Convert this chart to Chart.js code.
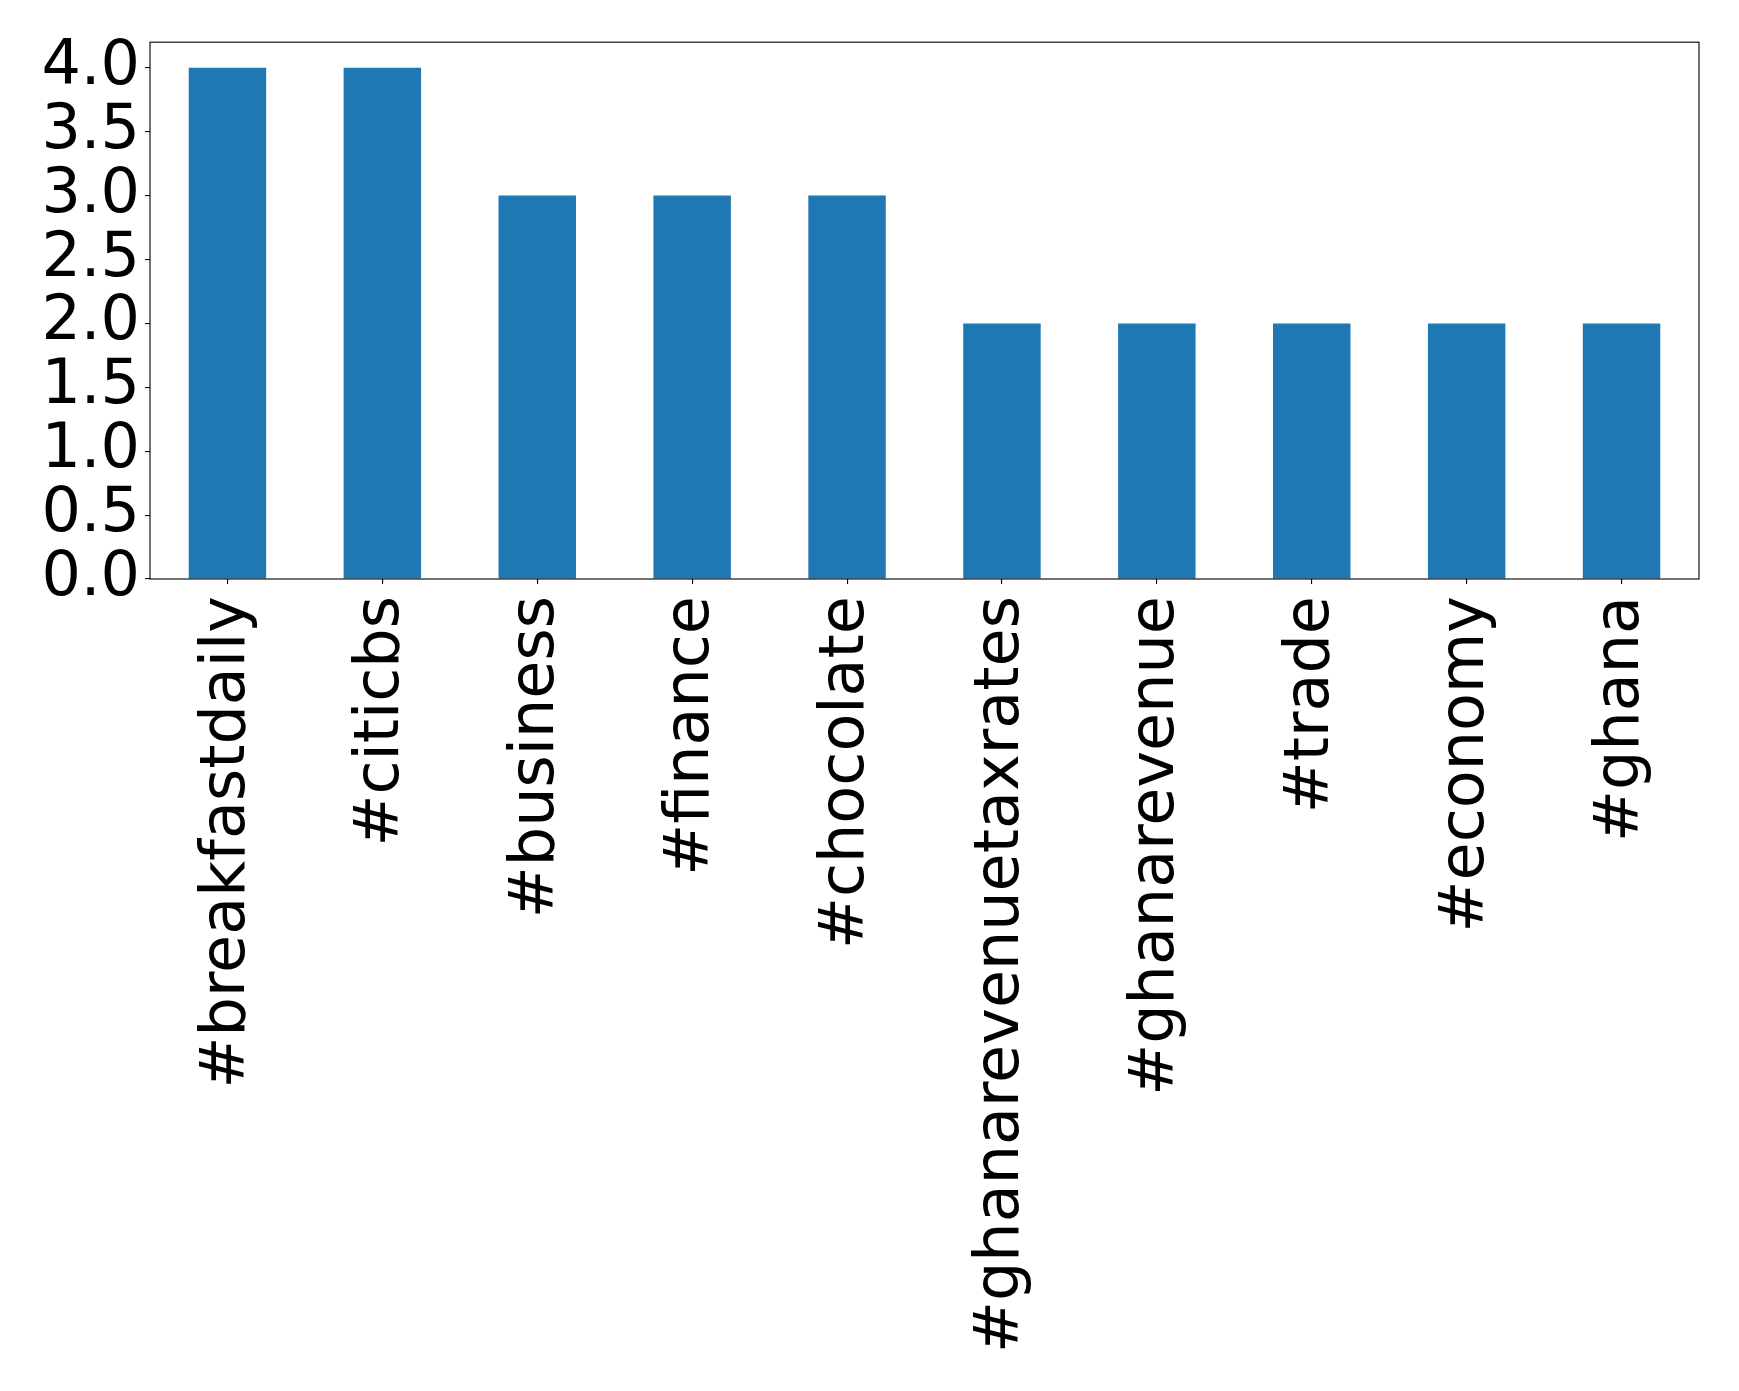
<!DOCTYPE html>
<html>
<head>
<meta charset="utf-8">
<script src="https://cdn.jsdelivr.net/npm/chart.js@4"></script>
<style>
html,body{margin:0;padding:0;background:#fff;}
#wrap{width:1739px;height:1391px;}
</style>
</head>
<body>
<div id="wrap"><canvas id="c" width="1739" height="1391"></canvas></div>
<script>
const categories = ["#breakfastdaily","#citicbs","#business","#finance","#chocolate","#ghanarevenuetaxrates","#ghanarevenue","#trade","#economy","#ghana"];
const counts = [4,4,3,3,3,2,2,2,2,2];
const yTicks = [0,0.5,1.0,1.5,2.0,2.5,3.0,3.5,4.0];

const frame = {
  id: 'frame',
  afterDraw(chart){
    const a = chart.chartArea, ctx = chart.ctx;
    ctx.save();
    ctx.strokeStyle = '#000';
    ctx.lineWidth = 1.1;
    ctx.strokeRect(a.left, a.top, a.right - a.left, a.bottom - a.top);
    ctx.restore();
  }
};

new Chart(document.getElementById('c'), {
  type: 'bar',
  data: {
    labels: categories,
    datasets: [{
      data: counts,
      backgroundColor: '#1f77b4',
      borderWidth: 0,
      categoryPercentage: 1.0,
      barPercentage: 0.5
    }]
  },
  options: {
    responsive: false,
    animation: false,
    layout: { padding: { top: 38, right: 40, left: 0, bottom: 0 } },
    plugins: { legend: { display: false }, tooltip: { enabled: false } },
    scales: {
      x: {
        offset: true,
        grid: { display: true, offset: false, drawOnChartArea: false, tickLength: 5, color: '#000', lineWidth: 1.1 },
        border: { display: false },
        ticks: {
          autoSkip: false, maxRotation: 90, minRotation: 90, padding: 12,
          color: '#000', font: { family: 'DejaVu Sans', size: 62 }
        },
        afterFit(s){ s.height = 812; }
      },
      y: {
        min: 0, max: 4.2,
        grid: { display: true, drawOnChartArea: false, tickLength: 5, color: '#000', lineWidth: 1.1 },
        border: { display: false },
        afterBuildTicks(s){ s.ticks = yTicks.map(v => ({ value: v })); },
        ticks: {
          autoSkip: false,
          color: '#000', padding: 5,
          font: { family: 'DejaVu Sans', size: 62 },
          callback: v => Number(v).toFixed(1)
        },
        afterFit(s){ s.width = 150; }
      }
    }
  },
  plugins: [frame]
});
</script>
</body>
</html>
